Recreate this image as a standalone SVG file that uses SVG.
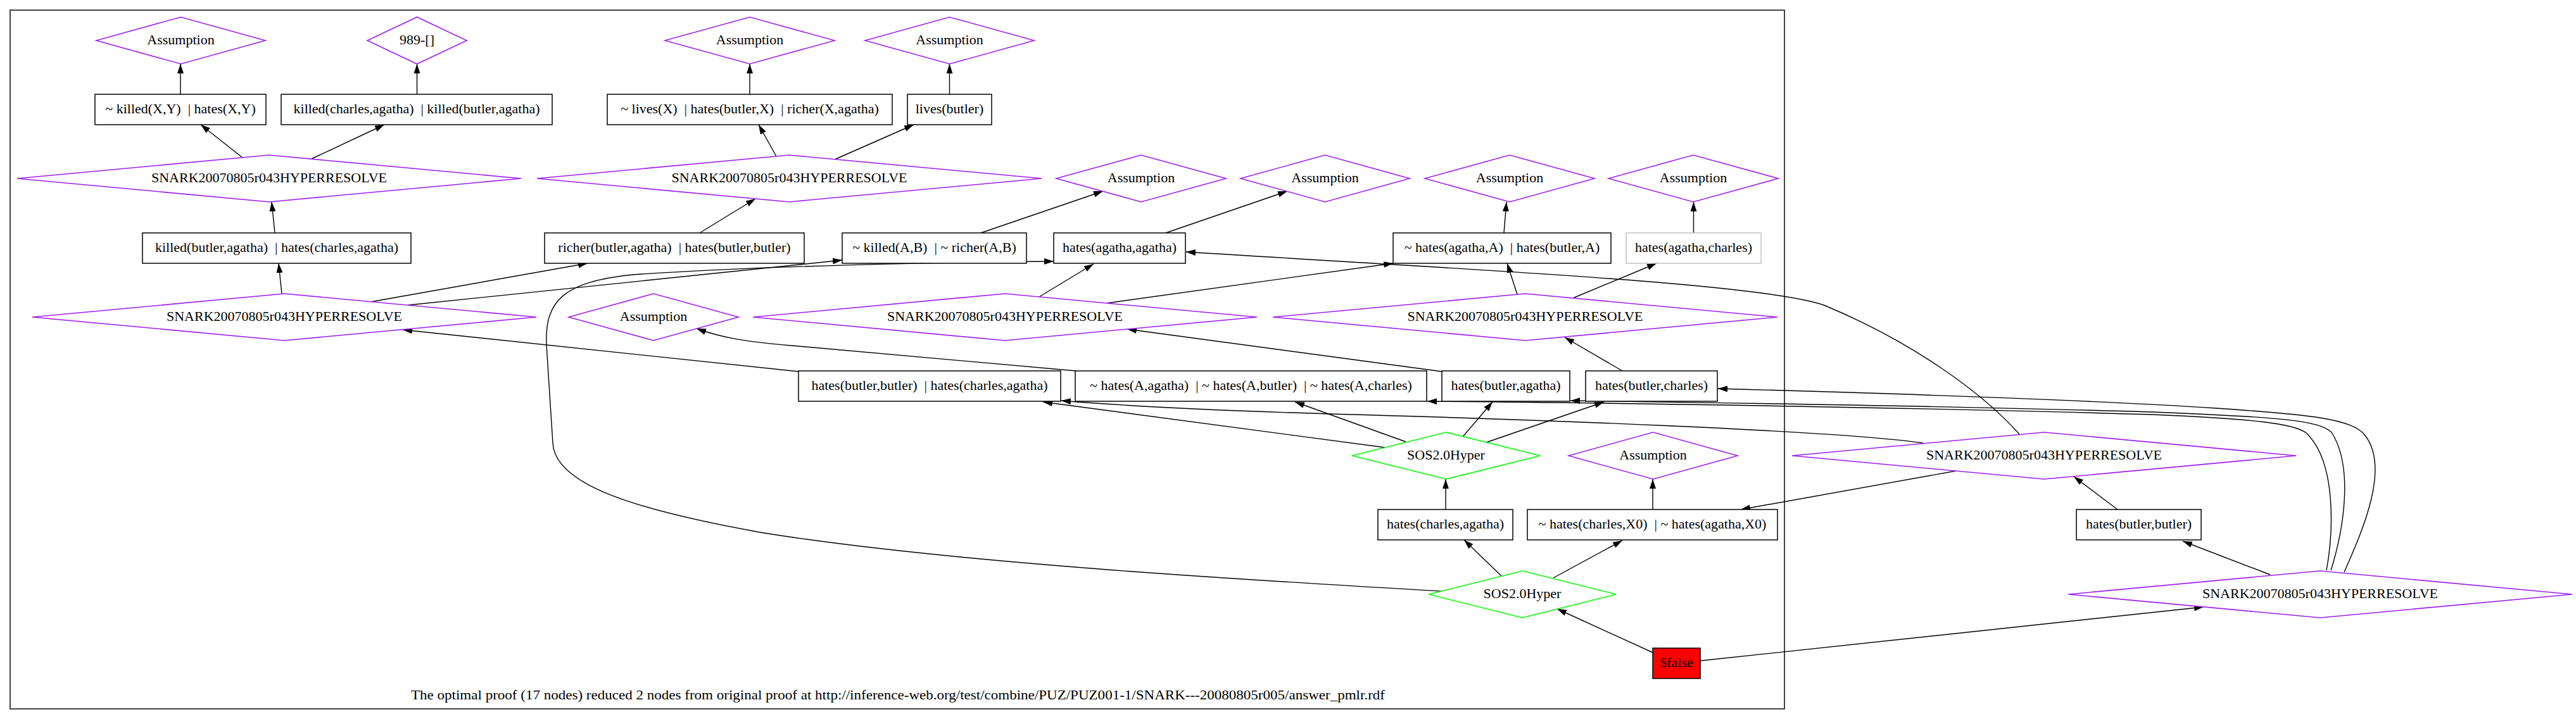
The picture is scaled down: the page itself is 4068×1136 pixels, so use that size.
<svg xmlns="http://www.w3.org/2000/svg" width="4068" height="1136" viewBox="0 0 4068 1136">
<style>
.d{fill:#fff;stroke:#a020f0;stroke-width:1.6}
.g{fill:#fff;stroke:#00ff00;stroke-width:1.6}
.b{fill:#fff;stroke:#000;stroke-width:1.5}
.l{fill:#fff;stroke:#c0c0c0;stroke-width:1.5}
.e{fill:none;stroke:#000;stroke-width:1.4;marker-end:url(#ah)}
text{font-family:"Liberation Serif","Times New Roman",serif;font-size:22px;text-anchor:middle;white-space:pre;fill:#000}
</style>
<defs>
<marker id="ah" markerUnits="userSpaceOnUse" markerWidth="16" markerHeight="11" refX="15" refY="5" orient="auto">
<path d="M0,0 L15,5 L0,10 z" fill="#000"/>
</marker>
</defs>
<rect width="4068" height="1136" fill="#fff"/>
<rect x="16" y="16" width="2802" height="1104" fill="none" stroke="#444" stroke-width="2"/>
<text x="1418" y="1105" textLength="1538" lengthAdjust="spacingAndGlyphs">The optimal proof (17 nodes) reduced 2 nodes from original proof at http://inference-web.org/test/combine/PUZ/PUZ001-1/SNARK---20080805r005/answer_pmlr.rdf</text>

<g id="edges">
<path class="e" d="M285,149 L285,101"/>
<path class="e" d="M658.5,149 L658.5,101"/>
<path class="e" d="M1184,149 L1184,101"/>
<path class="e" d="M1499.5,149 L1499.5,101"/>
<path class="e" d="M383,249 L317,197"/>
<path class="e" d="M492,251 L607,197"/>
<path class="e" d="M1226,247 L1198,197"/>
<path class="e" d="M1318,252 L1443,197"/>
<path class="e" d="M434,368 L429,319"/>
<path class="e" d="M1105,368 L1193,314"/>
<path class="e" d="M1549,368 L1742,302"/>
<path class="e" d="M1841,368 L2033,302"/>
<path class="e" d="M2375,368 L2379,319"/>
<path class="e" d="M2674.5,368 L2674.5,319"/>
<path class="e" d="M445,464 L440,416"/>
<path class="e" d="M585,477 L928,416"/>
<path class="e" d="M645,482 L1330,411"/>
<path class="e" d="M1641,469 L1727,417"/>
<path class="e" d="M1748,479 L2200,416"/>
<path class="e" d="M2396,465 L2380,416"/>
<path class="e" d="M2484,471 L2616,416"/>
<path class="e" d="M1261,587 L636,521"/>
<path class="e" d="M1699,586 L1250,546 C1180,540 1140,534 1100,519"/>
<path class="e" d="M2277,587 L1780,520"/>
<path class="e" d="M2562,586 L2471,533"/>
<path class="e" d="M2187,707 L1647,635"/>
<path class="e" d="M2220,698 L2045,635"/>
<path class="e" d="M2310,690 L2357,635"/>
<path class="e" d="M2347,699 L2533,635"/>
<path class="e" d="M2283,805 L2283,757"/>
<path class="e" d="M2610,805 L2610,757"/>
<path class="e" d="M3089,744 L2749,805"/>
<path class="e" d="M3189,686 C3130,620 3020,540 2880,482 C2780,447 2300,425 1873,398"/>
<path class="e" d="M3037,700 C2900,680 2400,662 2100,654 C1900,648 1760,640 1676,633"/>
<path class="e" d="M3344,805 L3275,753"/>
<path class="e" d="M3585,908 L3447,855"/>
<path class="e" d="M3702,904 C3730,840 3775,740 3735,688 C3715,662 3650,655 3500,645 C3300,632 3000,622 2713,614"/>
<path class="e" d="M3681,901 C3700,840 3718,740 3682,683 C3662,664 3600,659 3400,651 C3100,642 2700,636 2480,633"/>
<path class="e" d="M3674,901 C3685,840 3690,730 3642,684 C3622,669 3560,662 3400,655 C3000,643 2500,636 2254,634"/>
<path class="e" d="M2610,1031 L2459,962"/>
<path class="e" d="M2685,1044 L3480,959"/>
<path class="e" d="M2371,910 L2312,853"/>
<path class="e" d="M2453,913 L2562,854"/>
<path class="e" d="M2276,934 C2000,918 1500,890 1200,841 C1000,805 876,765 873,700 L863,545 C860,475 890,445 1000,434 C1200,420 1500,414 1664,413"/>
</g>

<g id="n_a1"><polygon class="d" points="152,64 285.5,27 419,64 285.5,101"/><text x="285.5" y="70">Assumption</text></g>
<g id="n_989"><polygon class="d" points="580,64 658.5,27 737,64 658.5,101"/><text x="658.5" y="70">989-[]</text></g>
<g id="n_a3"><polygon class="d" points="1050,64 1184,27 1318,64 1184,101"/><text x="1184" y="70">Assumption</text></g>
<g id="n_a4"><polygon class="d" points="1366,64 1499.5,27 1633,64 1499.5,101"/><text x="1499.5" y="70">Assumption</text></g>

<g id="n_b1"><rect class="b" x="150" y="149" width="270" height="48"/><text x="285" y="179">~ killed(X,Y)  | hates(X,Y)</text></g>
<g id="n_b2"><rect class="b" x="444" y="149" width="428" height="48"/><text x="658" y="179">killed(charles,agatha)  | killed(butler,agatha)</text></g>
<g id="n_b3"><rect class="b" x="959" y="149" width="450" height="48"/><text x="1184" y="179">~ lives(X)  | hates(butler,X)  | richer(X,agatha)</text></g>
<g id="n_b4"><rect class="b" x="1433" y="149" width="133" height="48"/><text x="1499.5" y="179">lives(butler)</text></g>

<g id="n_s1"><polygon class="d" points="27,282 425,245 823,282 425,319"/><text x="425" y="288">SNARK20070805r043HYPERRESOLVE</text></g>
<g id="n_s3"><polygon class="d" points="848,282 1246.5,245 1645,282 1246.5,319"/><text x="1246.5" y="288">SNARK20070805r043HYPERRESOLVE</text></g>
<g id="n_a5"><polygon class="d" points="1668,282 1802,245 1936,282 1802,319"/><text x="1802" y="288">Assumption</text></g>
<g id="n_a6"><polygon class="d" points="1959,282 2092.5,245 2226,282 2092.5,319"/><text x="2092.5" y="288">Assumption</text></g>
<g id="n_a7"><polygon class="d" points="2250,282 2384,245 2518,282 2384,319"/><text x="2384" y="288">Assumption</text></g>
<g id="n_a8"><polygon class="d" points="2540,282 2674,245 2808,282 2674,319"/><text x="2674" y="288">Assumption</text></g>

<g id="n_b5"><rect class="b" x="225" y="368" width="424" height="48"/><text x="437" y="398">killed(butler,agatha)  | hates(charles,agatha)</text></g>
<g id="n_b6"><rect class="b" x="860" y="368" width="410" height="48"/><text x="1065" y="398">richer(butler,agatha)  | hates(butler,butler)</text></g>
<g id="n_b7"><rect class="b" x="1330" y="368" width="291" height="48"/><text x="1475.5" y="398">~ killed(A,B)  | ~ richer(A,B)</text></g>
<g id="n_b8"><rect class="b" x="1664" y="368" width="208" height="48"/><text x="1768" y="398">hates(agatha,agatha)</text></g>
<g id="n_b9"><rect class="b" x="2200" y="368" width="344" height="48"/><text x="2372" y="398">~ hates(agatha,A)  | hates(butler,A)</text></g>
<g id="n_b10"><rect class="l" x="2568" y="368" width="213" height="48"/><text x="2674.5" y="398">hates(agatha,charles)</text></g>

<g id="n_s2"><polygon class="d" points="51,501 449,464 847,501 449,538"/><text x="449" y="507">SNARK20070805r043HYPERRESOLVE</text></g>
<g id="n_a9"><polygon class="d" points="898,501 1032,464 1166,501 1032,538"/><text x="1032" y="507">Assumption</text></g>
<g id="n_s4"><polygon class="d" points="1189,501 1587,464 1985,501 1587,538"/><text x="1587" y="507">SNARK20070805r043HYPERRESOLVE</text></g>
<g id="n_s5"><polygon class="d" points="2010,501 2408.5,464 2807,501 2408.5,538"/><text x="2408.5" y="507">SNARK20070805r043HYPERRESOLVE</text></g>

<g id="n_b11"><rect class="b" x="1261" y="586" width="414" height="48"/><text x="1468" y="616">hates(butler,butler)  | hates(charles,agatha)</text></g>
<g id="n_b12"><rect class="b" x="1698" y="586" width="555" height="48"/><text x="1975.5" y="616">~ hates(A,agatha)  | ~ hates(A,butler)  | ~ hates(A,charles)</text></g>
<g id="n_b13"><rect class="b" x="2277" y="586" width="202" height="48"/><text x="2378" y="616">hates(butler,agatha)</text></g>
<g id="n_b14"><rect class="b" x="2504" y="586" width="208" height="48"/><text x="2608" y="616">hates(butler,charles)</text></g>

<g id="n_h1"><polygon class="g" points="2135,720 2283.5,683 2432,720 2283.5,757"/><text x="2283.5" y="726">SOS2.0Hyper</text></g>
<g id="n_a10"><polygon class="d" points="2477,720 2610.5,683 2744,720 2610.5,757"/><text x="2610.5" y="726">Assumption</text></g>
<g id="n_s6"><polygon class="d" points="2830,720 3228,683 3626,720 3228,757"/><text x="3228" y="726">SNARK20070805r043HYPERRESOLVE</text></g>

<g id="n_b15"><rect class="b" x="2176" y="805" width="213" height="48"/><text x="2282.5" y="835">hates(charles,agatha)</text></g>
<g id="n_b16"><rect class="b" x="2412" y="805" width="395" height="48"/><text x="2609.5" y="835">~ hates(charles,X0)  | ~ hates(agatha,X0)</text></g>
<g id="n_b17"><rect class="b" x="3279" y="805" width="197" height="48"/><text x="3377.5" y="835">hates(butler,butler)</text></g>

<g id="n_h2"><polygon class="g" points="2256,939 2404,902 2552,939 2404,976"/><text x="2404" y="945">SOS2.0Hyper</text></g>
<g id="n_s7"><polygon class="d" points="3266,939 3664,902 4062,939 3664,976"/><text x="3664" y="945">SNARK20070805r043HYPERRESOLVE</text></g>

<g id="n_false"><rect x="2610" y="1024" width="75" height="48" fill="#ff0000" stroke="#000" stroke-width="1.5"/><text x="2647.5" y="1054">$false</text></g>
</svg>
